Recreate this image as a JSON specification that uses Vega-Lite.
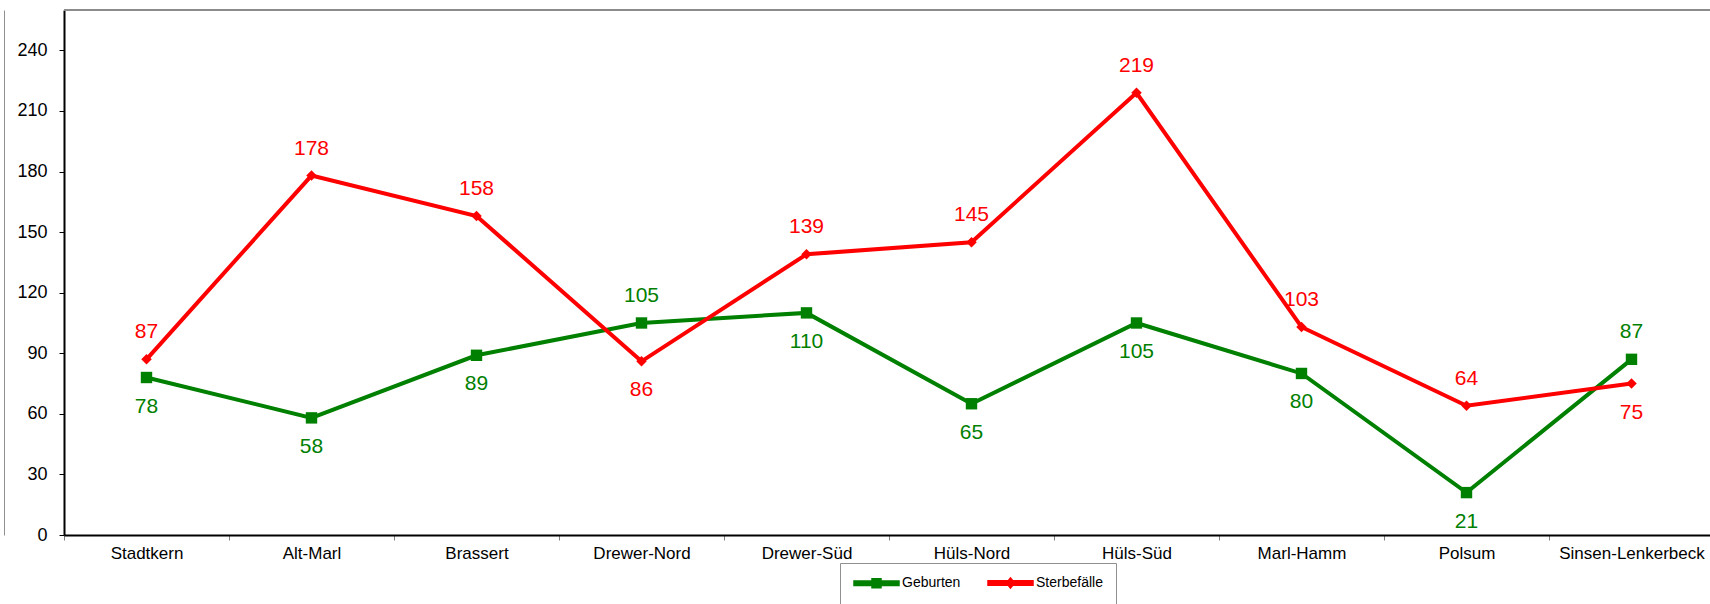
{
  "$schema": "https://vega.github.io/schema/vega-lite/v6.json",
  "width": 1646,
  "height": 525,
  "autosize": {"type": "none"},
  "padding": {"left": 64, "top": 10, "right": 0, "bottom": 69},
  "background": "white",
  "config": {
    "font": "Liberation Sans",
    "view": {"stroke": null},
    "axisX": {
      "title": null,
      "labelAngle": 0,
      "labelFontSize": 17,
      "labelColor": "black",
      "labelOverlap": false,
      "labelFlush": false,
      "labelPadding": 5,
      "tickBand": "extent",
      "tickSize": 5,
      "tickColor": "#808080",
      "tickWidth": 1,
      "domainColor": "black",
      "domainWidth": 2,
      "grid": false
    },
    "axisY": {
      "title": null,
      "labelFontSize": 18,
      "labelColor": "black",
      "labelPadding": 12,
      "tickSize": 5,
      "tickColor": "black",
      "domainColor": "black",
      "domainWidth": 2,
      "grid": false
    }
  },
  "data": {
    "values": [
      {"district": "Stadtkern", "series": "Geburten", "value": 78},
      {"district": "Alt-Marl", "series": "Geburten", "value": 58},
      {"district": "Brassert", "series": "Geburten", "value": 89},
      {"district": "Drewer-Nord", "series": "Geburten", "value": 105},
      {"district": "Drewer-Süd", "series": "Geburten", "value": 110},
      {"district": "Hüls-Nord", "series": "Geburten", "value": 65},
      {"district": "Hüls-Süd", "series": "Geburten", "value": 105},
      {"district": "Marl-Hamm", "series": "Geburten", "value": 80},
      {"district": "Polsum", "series": "Geburten", "value": 21},
      {"district": "Sinsen-Lenkerbeck", "series": "Geburten", "value": 87},
      {"district": "Stadtkern", "series": "Sterbefälle", "value": 87},
      {"district": "Alt-Marl", "series": "Sterbefälle", "value": 178},
      {"district": "Brassert", "series": "Sterbefälle", "value": 158},
      {"district": "Drewer-Nord", "series": "Sterbefälle", "value": 86},
      {"district": "Drewer-Süd", "series": "Sterbefälle", "value": 139},
      {"district": "Hüls-Nord", "series": "Sterbefälle", "value": 145},
      {"district": "Hüls-Süd", "series": "Sterbefälle", "value": 219},
      {"district": "Marl-Hamm", "series": "Sterbefälle", "value": 103},
      {"district": "Polsum", "series": "Sterbefälle", "value": 64},
      {"district": "Sinsen-Lenkerbeck", "series": "Sterbefälle", "value": 75}
    ]
  },
  "resolve": {"axis": {"y": "independent"}},
  "layer": [
    {
      "mark": {"type": "line", "strokeWidth": 4},
      "encoding": {
        "x": {
          "field": "district",
          "type": "nominal",
          "sort": null,
          "scale": {"type": "band", "range": [0, 1650], "paddingInner": 0, "paddingOuter": 0}
        },
        "y": {
          "field": "value",
          "type": "quantitative",
          "scale": {"domain": [0, 260], "nice": false, "zero": true},
          "axis": {"values": [0, 30, 60, 90, 120, 150, 180, 210, 240]}
        },
        "color": {
          "field": "series",
          "type": "nominal",
          "scale": {"domain": ["Geburten", "Sterbefälle"], "range": ["#008000", "#ff0000"]},
          "legend": {
            "title": null,
            "orient": "none",
            "legendX": 776,
            "legendY": 553,
            "direction": "horizontal",
            "columns": 2,
            "padding": 13,
            "strokeColor": "#909090",
            "fillColor": "white",
            "labelFontSize": 14,
            "labelColor": "black",
            "labelOffset": 35,
            "columnPadding": 24,
            "symbolSize": 144,
            "symbolType": "square",
            "encode": {
              "symbols": {
                "update": {
                  "shape": {"signal": "datum.value === 'Geburten' ? 'M-1,-0.375 L2,-0.375 L2,-0.75 L3.5,-0.75 L3.5,-0.375 L6.5,-0.375 L6.5,0.375 L3.5,0.375 L3.5,0.75 L2,0.75 L2,0.375 L-1,0.375 Z' : 'M-1,-0.375 L2.38,-0.375 L2.75,-0.83 L3.12,-0.375 L6.5,-0.375 L6.5,0.375 L3.12,0.375 L2.75,0.83 L2.38,0.375 L-1,0.375 Z'"},
                  "fill": {"signal": "datum.value === 'Geburten' ? '#008000' : '#ff0000'"},
                  "stroke": {"signal": "'transparent'"}
                }
              }
            }
          }
        }
      }
    },
    {
      "mark": {"type": "rule", "color": "#8c8c8c", "strokeWidth": 2},
      "encoding": {
        "y": {
          "datum": 260,
          "type": "quantitative",
          "axis": {"orient": "left", "offset": 60, "labels": false, "ticks": false, "domainColor": "#909090", "domainWidth": 1, "values": []}
        }
      }
    },
    {
      "transform": [{"filter": "datum.series === 'Geburten'"}],
      "mark": {"type": "point", "shape": "square", "filled": true, "opacity": 1, "color": "#008000", "size": 130},
      "encoding": {
        "x": {"field": "district", "type": "nominal", "sort": null},
        "y": {"field": "value", "type": "quantitative", "axis": null}
      }
    },
    {
      "transform": [{"filter": "datum.series === 'Sterbefälle'"}],
      "mark": {"type": "point", "shape": "diamond", "filled": true, "opacity": 1, "color": "#ff0000", "size": 110},
      "encoding": {
        "x": {"field": "district", "type": "nominal", "sort": null},
        "y": {"field": "value", "type": "quantitative", "axis": null}
      }
    },
    {
      "transform": [
        {"joinaggregate": [{"op": "max", "field": "value", "as": "maxv"}], "groupby": ["district"]},
        {"filter": "datum.value === datum.maxv"}
      ],
      "mark": {"type": "text", "fontSize": 21, "baseline": "middle", "dy": -27},
      "encoding": {
        "x": {"field": "district", "type": "nominal", "sort": null},
        "y": {"field": "value", "type": "quantitative", "axis": null},
        "text": {"field": "value", "type": "quantitative"},
        "color": {"field": "series", "type": "nominal"}
      }
    },
    {
      "transform": [
        {"joinaggregate": [{"op": "max", "field": "value", "as": "maxv"}], "groupby": ["district"]},
        {"filter": "datum.value < datum.maxv"}
      ],
      "mark": {"type": "text", "fontSize": 21, "baseline": "middle", "dy": 29},
      "encoding": {
        "x": {"field": "district", "type": "nominal", "sort": null},
        "y": {"field": "value", "type": "quantitative", "axis": null},
        "text": {"field": "value", "type": "quantitative"},
        "color": {"field": "series", "type": "nominal"}
      }
    }
  ]
}
